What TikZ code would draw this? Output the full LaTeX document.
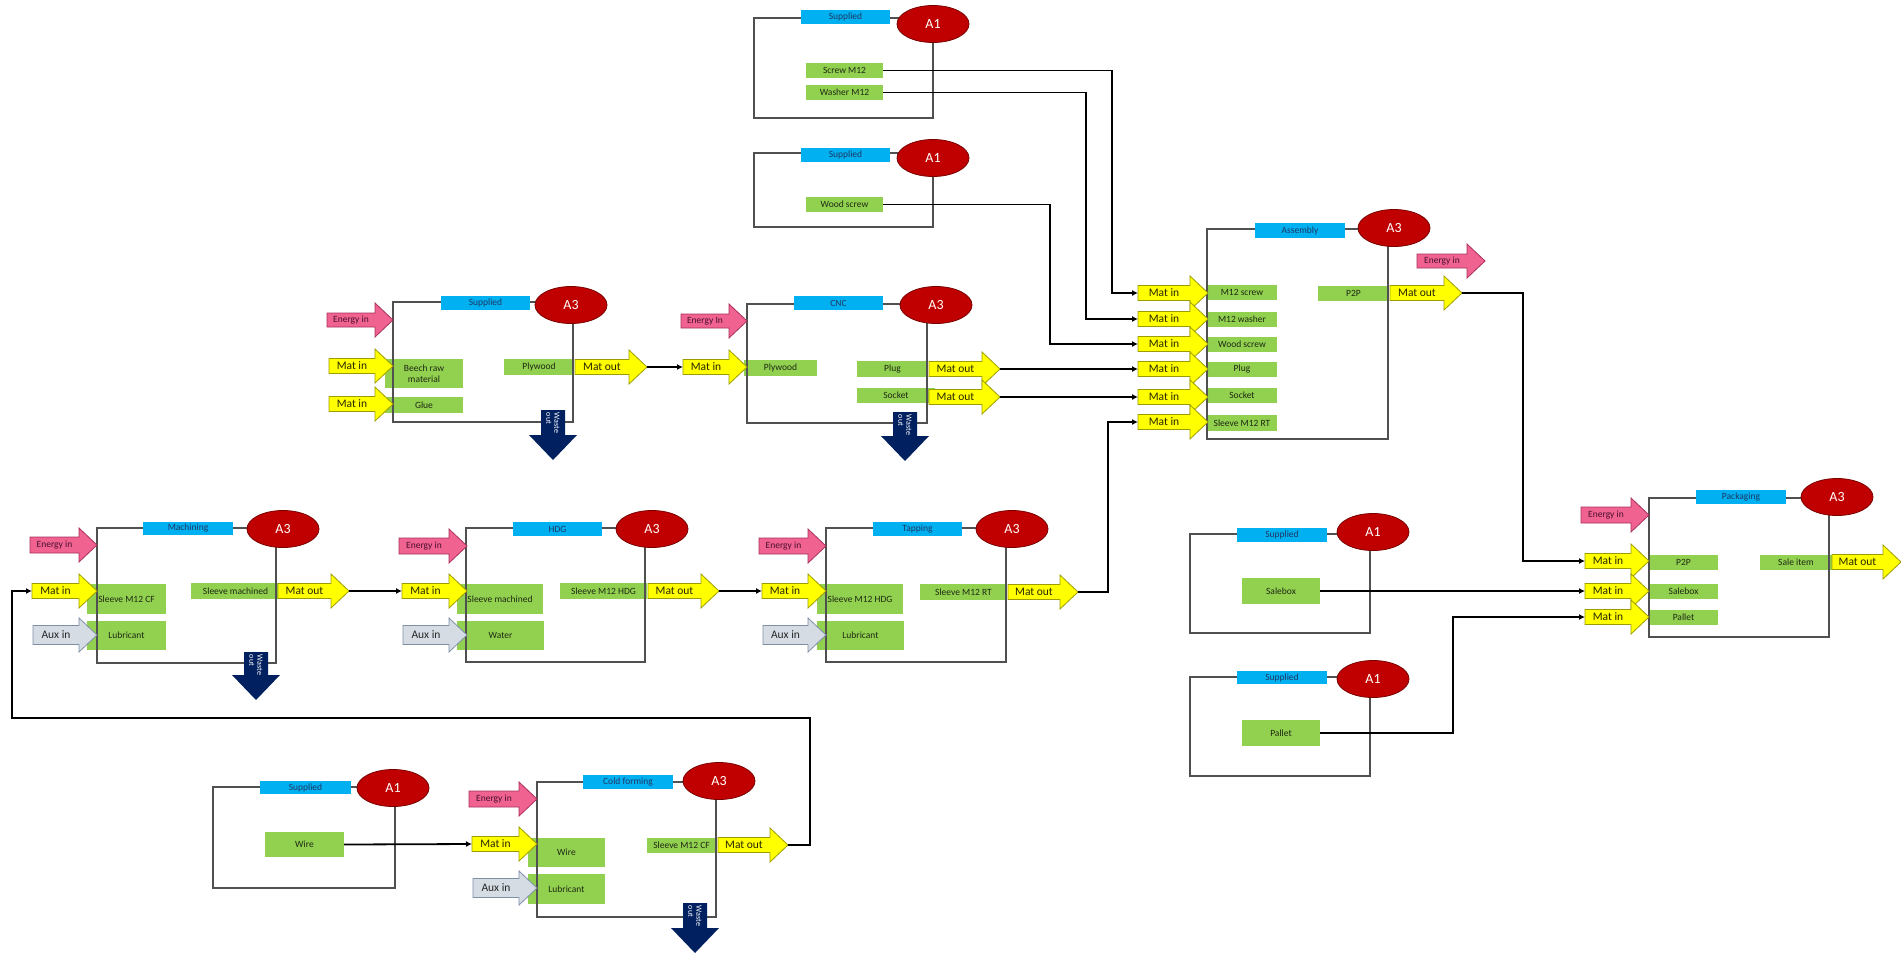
\documentclass[tikz,border=0pt]{standalone}
\usepackage{fontspec}
\setmainfont{Carlito}
\usetikzlibrary{shapes.geometric,arrows.meta}
\definecolor{grn}{HTML}{92D050}
\definecolor{gtxt}{HTML}{1E2A14}
\definecolor{blu}{HTML}{00B0F0}
\definecolor{btxt}{HTML}{1F3864}
\definecolor{ered}{HTML}{C00000}
\definecolor{eredb}{HTML}{7A0000}
\definecolor{pnk}{HTML}{F0628F}
\definecolor{pnkb}{HTML}{A83060}
\definecolor{pnkt}{HTML}{4A1030}
\definecolor{yel}{HTML}{FFFF00}
\definecolor{yelb}{HTML}{9C9C00}
\definecolor{ytxt}{HTML}{262600}
\definecolor{auxf}{HTML}{D5DCE4}
\definecolor{auxb}{HTML}{7F8FA6}
\definecolor{navy}{HTML}{002060}
\definecolor{frmc}{HTML}{505050}
\tikzset{
 gbox/.style={fill=grn,draw=none,inner sep=0pt,align=center,text=gtxt,font=\fontsize{9.5}{10.5}\selectfont},
 bbox/.style={fill=blu,draw=none,inner sep=0pt,text=btxt,font=\fontsize{9.5}{10}\selectfont},
 ellp/.style={ellipse,fill=ered,draw=eredb,line width=0.8pt,minimum width=72pt,minimum height=37pt,inner sep=0pt,text=white,font=\fontsize{14}{14}\selectfont},
 frameline/.style={draw=frmc,line width=1.1pt},
 yarrow/.style={fill=yel,draw=yelb,line width=0.8pt,line join=miter},
 yarrowt/.style={inner sep=0pt,text=ytxt,font=\fontsize{11.5}{12}\selectfont},
 parrow/.style={fill=pnk,draw=pnkb,line width=0.8pt},
 parrowt/.style={inner sep=0pt,text=pnkt,font=\fontsize{9.5}{10}\selectfont},
 garrow/.style={fill=auxf,draw=auxb,line width=0.8pt},
 garrowt/.style={inner sep=0pt,text=black!85,font=\fontsize{11.5}{12}\selectfont},
 waste/.style={fill=navy,draw=none},
 wastet/.style={inner sep=0pt,text=white,align=left,rotate=-90,font=\fontsize{8}{8}\selectfont},
 conn/.style={draw=black,line width=1.8pt,-{Latex[length=6pt,width=6pt]}},
}
% green box: name, x1, y1, x2, y2, text
\newcommand\gbx[6]{\node[gbox,minimum width={#4-#2},minimum height={#5-#3}] (#1) at ({(#2+#4)/2},{(#3+#5)/2}) {#6};}
% blue label
\newcommand\bbx[6]{\node[bbox,minimum width={#4-#2},minimum height={#5-#3}] (#1) at ({(#2+#4)/2},{(#3+#5)/2}) {#6};}
% ellipse
\newcommand\elp[4]{\node[ellp] (#1) at (#2,#3) {#4};}
% frame
\newcommand\frm[4]{\draw[frameline] (#1,#2) rectangle (#3,#4);}
% right block arrow: name, tail x, tip x, y, style, half body, text
\newcommand\rar[7]{%
 \draw[#5] (#2,{#4-#6}) -- ({#3-18},{#4-#6}) -- ({#3-18},{#4-17}) -- (#3,#4) -- ({#3-18},{#4+17}) -- ({#3-18},{#4+#6}) -- (#2,{#4+#6}) -- cycle;
 \node[#5t] (#1) at ({(#2+#3-18)/2},#4) {#7};
 \coordinate (#1-tail) at (#2,#4);
 \coordinate (#1-tip) at (#3,#4);}
% waste down arrow: name, centre x, top y, tip y
\newcommand\dar[4]{%
 \fill[waste] ({#2-12},#3) -- ({#2+12},#3) -- ({#2+12},{#4-25}) -- ({#2+24},{#4-25}) -- (#2,#4) -- ({#2-24},{#4-25}) -- ({#2-12},{#4-25}) -- cycle;
 \node[wastet] (#1) at (#2,{#3+13}) {Waste\\out};}
\begin{document}
\begin{tikzpicture}[x=1pt,y=-1pt]
\fill[white] (0,0) rectangle (1901,954);
\useasboundingbox (0,0) rectangle (1901,954);

% ---------- Supplied: screw / washer
\gbx{sa}{806}{63}{883}{78}{Screw M12}
\gbx{sb}{806}{85}{883}{100}{Washer M12}
\frm{754}{18}{933}{118}
\bbx{sal}{801}{10}{890}{24}{Supplied}
\elp{sae}{933}{24}{A1}

% ---------- Supplied: wood screw
\gbx{sw}{806}{197}{883}{212}{Wood screw}
\frm{754}{153}{933}{227}
\bbx{swl}{801}{148}{890}{162}{Supplied}
\elp{swe}{933}{158}{A1}

% ---------- Supplied: plywood
\gbx{pa}{385}{359}{463}{388}{Beech raw\\material}
\gbx{pb}{385}{397}{463}{413}{Glue}
\gbx{po}{504}{359}{574}{375}{Plywood}
\frm{393}{302}{573}{422}
\bbx{pl}{441}{296}{530}{310}{Supplied}
\elp{pe}{571}{305}{A3}
\rar{pen}{327}{393}{320}{parrow}{7}{Energy in}
\rar{pi1}{329}{393}{366}{yarrow}{7.5}{Mat in}
\rar{pi2}{329}{393}{404}{yarrow}{7.5}{Mat in}
\rar{pmo}{575}{647}{367}{yarrow}{7.5}{Mat out}
\dar{pw}{553}{410}{460}

% ---------- CNC
\gbx{ca}{744}{360}{817}{376}{Plywood}
\gbx{co1}{857}{361}{928}{377}{Plug}
\gbx{co2}{857}{388}{935}{403}{Socket}
\frm{747}{304}{927}{423}
\bbx{cl}{794}{296}{883}{310}{CNC}
\elp{ce}{936}{305}{A3}
\rar{cen}{681}{747}{321}{parrow}{7}{Energy In}
\rar{ci}{683}{747}{367}{yarrow}{7.5}{Mat in}
\rar{cmo1}{929}{1000}{369}{yarrow}{7.5}{Mat out}
\rar{cmo2}{929}{1000}{397}{yarrow}{7.5}{Mat out}
\dar{cw}{905}{412}{461}

% ---------- Assembly
\gbx{a1}{1207}{285}{1277}{300}{M12 screw}
\gbx{a2}{1207}{312}{1277}{327}{M12 washer}
\gbx{a3}{1207}{337}{1277}{352}{Wood screw}
\gbx{a4}{1207}{362}{1277}{377}{Plug}
\gbx{a5}{1207}{388}{1277}{403}{Socket}
\gbx{a6}{1207}{415}{1277}{431}{Sleeve M12 RT}
\gbx{ao}{1318}{286}{1389}{301}{P2P}
\frm{1207}{229}{1388}{439}
\bbx{al}{1255}{223}{1345}{238}{Assembly}
\elp{ae}{1394}{228}{A3}
\rar{aen}{1417}{1485}{261}{parrow}{7}{Energy in}
\rar{ai1}{1138}{1208}{293}{yarrow}{7.5}{Mat in}
\rar{ai2}{1138}{1208}{319}{yarrow}{7.5}{Mat in}
\rar{ai3}{1138}{1208}{344}{yarrow}{7.5}{Mat in}
\rar{ai4}{1138}{1208}{369}{yarrow}{7.5}{Mat in}
\rar{ai5}{1138}{1208}{397}{yarrow}{7.5}{Mat in}
\rar{ai6}{1138}{1208}{422}{yarrow}{7.5}{Mat in}
\rar{amo}{1390}{1462}{293}{yarrow}{7.5}{Mat out}

% ---------- Machining
\gbx{ma}{87}{584}{166}{614}{Sleeve M12 CF}
\gbx{mb}{87}{621}{166}{650}{Lubricant}
\gbx{mo}{191}{583}{280}{599}{Sleeve machined}
\frm{97}{528}{276}{663}
\bbx{ml}{143}{522}{233}{535}{Machining}
\elp{me}{283}{529}{A3}
\rar{men}{30}{97}{545}{parrow}{8}{Energy in}
\rar{mi}{32}{97}{591}{yarrow}{7.5}{Mat in}
\rar{mx}{33}{97}{635}{garrow}{9.5}{Aux in}
\rar{mmo}{278}{349}{591}{yarrow}{7.5}{Mat out}
\dar{mw}{256}{652}{700}

% ---------- HDG
\gbx{ha}{457}{584}{543}{614}{Sleeve machined}
\gbx{hb}{457}{621}{544}{650}{Water}
\gbx{ho}{560}{583}{647}{599}{Sleeve M12 HDG}
\frm{466}{528}{645}{662}
\bbx{hl}{513}{522}{602}{536}{HDG}
\elp{he}{652}{529}{A3}
\rar{hen}{399}{467}{546}{parrow}{8}{Energy in}
\rar{hi}{402}{467}{591}{yarrow}{7.5}{Mat in}
\rar{hx}{403}{467}{635}{garrow}{9.5}{Aux in}
\rar{hmo}{648}{719}{591}{yarrow}{7.5}{Mat out}

% ---------- Tapping
\gbx{ta}{817}{584}{903}{614}{Sleeve M12 HDG}
\gbx{tb}{817}{621}{904}{650}{Lubricant}
\gbx{to}{920}{584}{1007}{600}{Sleeve M12 RT}
\frm{826}{528}{1006}{662}
\bbx{tl}{873}{522}{962}{536}{Tapping}
\elp{te}{1012}{529}{A3}
\rar{ten}{759}{826}{546}{parrow}{8}{Energy in}
\rar{ti}{762}{826}{591}{yarrow}{7.5}{Mat in}
\rar{tx}{763}{826}{635}{garrow}{9.5}{Aux in}
\rar{tmo}{1008}{1078}{592}{yarrow}{7.5}{Mat out}

% ---------- Supplied: salebox
\gbx{sbx}{1242}{578}{1320}{604}{Salebox}
\frm{1190}{534}{1370}{633}
\bbx{sbxl}{1237}{528}{1327}{542}{Supplied}
\elp{sbxe}{1373}{532}{A1}

% ---------- Supplied: pallet
\gbx{spl}{1242}{720}{1320}{746}{Pallet}
\frm{1190}{677}{1370}{776}
\bbx{spll}{1237}{671}{1327}{684}{Supplied}
\elp{sple}{1373}{679}{A1}

% ---------- Packaging
\gbx{k1}{1649}{555}{1718}{570}{P2P}
\gbx{k2}{1649}{584}{1718}{599}{Salebox}
\gbx{k3}{1649}{610}{1718}{625}{Pallet}
\gbx{ko}{1760}{555}{1832}{570}{Sale item}
\frm{1649}{498}{1829}{637}
\bbx{kl}{1696}{490}{1786}{504}{Packaging}
\elp{ke}{1837}{497}{A3}
\rar{ken}{1581}{1649}{515}{parrow}{8}{Energy in}
\rar{ki1}{1585}{1649}{561}{yarrow}{7.5}{Mat in}
\rar{ki2}{1585}{1649}{591}{yarrow}{7.5}{Mat in}
\rar{ki3}{1585}{1649}{617}{yarrow}{7.5}{Mat in}
\rar{kmo}{1832}{1901}{562}{yarrow}{7.5}{Mat out}

% ---------- Supplied: wire
\gbx{swr}{265}{832}{344}{857}{Wire}
\frm{213}{787}{395}{888}
\bbx{swrl}{260}{781}{351}{794}{Supplied}
\elp{swre}{393}{788}{A1}

% ---------- Cold forming
\gbx{fa}{528}{838}{605}{867}{Wire}
\gbx{fb}{528}{874}{605}{904}{Lubricant}
\gbx{fo}{647}{838}{716}{853}{Sleeve M12 CF}
\frm{537}{782}{716}{917}
\bbx{fl}{583}{775}{673}{789}{Cold forming}
\elp{fe}{719}{781}{A3}
\rar{fen}{469}{537}{799}{parrow}{8}{Energy in}
\rar{fi}{472}{537}{844}{yarrow}{7.5}{Mat in}
\rar{fx}{473}{537}{888}{garrow}{9.5}{Aux in}
\rar{fmo}{718}{788}{845}{yarrow}{7.5}{Mat out}
\dar{fw}{695}{903}{953}

% ---------- connectors
\draw[conn] (sa.east) -| ([xshift=-26pt]ai1-tail) -- (ai1-tail);
\draw[conn] (sb.east) -| ([xshift=-52pt]ai2-tail) -- (ai2-tail);
\draw[conn] (sw.east) -| ([xshift=-88pt]ai3-tail) -- (ai3-tail);
\draw[conn] (cmo1-tip) -- (ai4-tail);
\draw[conn] (cmo2-tip) -- (ai5-tail);
\draw[conn] (tmo-tip) -| ([xshift=-30pt]ai6-tail) -- (ai6-tail);
\draw[conn] (amo-tip) -| ([xshift=-62pt]ki1-tail) -- (ki1-tail);
\draw[conn] (sbx.east) -- (ki2-tail);
\draw[conn] (spl.east) -| ([xshift=-132pt]ki3-tail) -- (ki3-tail);
\draw[conn] (pmo-tip) -- (ci-tail);
\draw[conn] (mmo-tip) -- (hi-tail);
\draw[conn] (hmo-tip) -- (ti-tail);
\draw[conn] (swr.east) -- (fi-tail);
\draw[conn] (fmo-tip) -| ([xshift=22pt,yshift=127pt]fmo-tip) -| ([xshift=-20pt]mi-tail) -- (mi-tail);
\end{tikzpicture}
\end{document}
